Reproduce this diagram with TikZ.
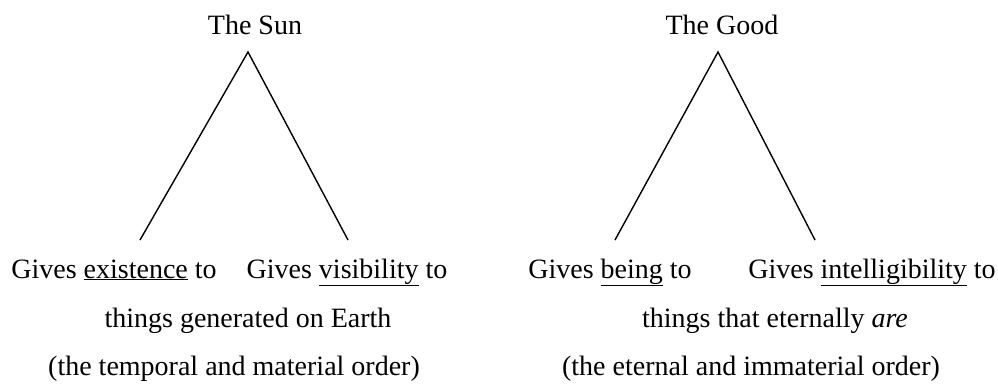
\documentclass[tikz,border=0pt]{standalone}
\usepackage{fontspec}
\setmainfont{Liberation Serif}
\usetikzlibrary{positioning}
\tikzset{
  ttl/.style ={inner sep=0pt, font=\fontsize{28}{32}\selectfont},
  txt/.style ={inner sep=0pt, anchor=base, font=\fontsize{28}{32}\selectfont},
  ln/.style  ={line width=1.4pt},
}
\begin{document}
\begin{tikzpicture}[x=1pt, y=-1pt]
  \useasboundingbox (0,0) rectangle (998,383);
  % the sun
  \node[ttl] (sun) at (255,25) {The Sun};
  \coordinate (sa) at (248,52);
  \coordinate (sl) at (140,240);
  \coordinate (sr) at (348,240);
  \node[txt] (exist) at (114,278) {Gives \underline{existence} to};
  \node[txt] (visib) at (347,278) {Gives \underline{visibility} to};
  \node[txt] (earth) at (248,327) {things generated on Earth};
  \node[txt] (tempo) at (234,375) {(the temporal and material order)};
  % the good
  \node[ttl] (good) at (722,25) {The Good};
  \coordinate (ga) at (718,52);
  \coordinate (gl) at (615,240);
  \coordinate (gr) at (815,240);
  \node[txt] (being) at (610,278) {Gives \underline{being} to};
  \node[txt] (intel) at (872,278) {Gives \underline{intelligibility} to};
  \node[txt] (areth) at (775,327) {things that eternally \textit{are}};
  \node[txt] (etern) at (751,375) {(the eternal and immaterial order)};
  \draw[ln] (sl)--(sa)--(sr);
  \draw[ln] (gl)--(ga)--(gr);
\end{tikzpicture}
\end{document}
